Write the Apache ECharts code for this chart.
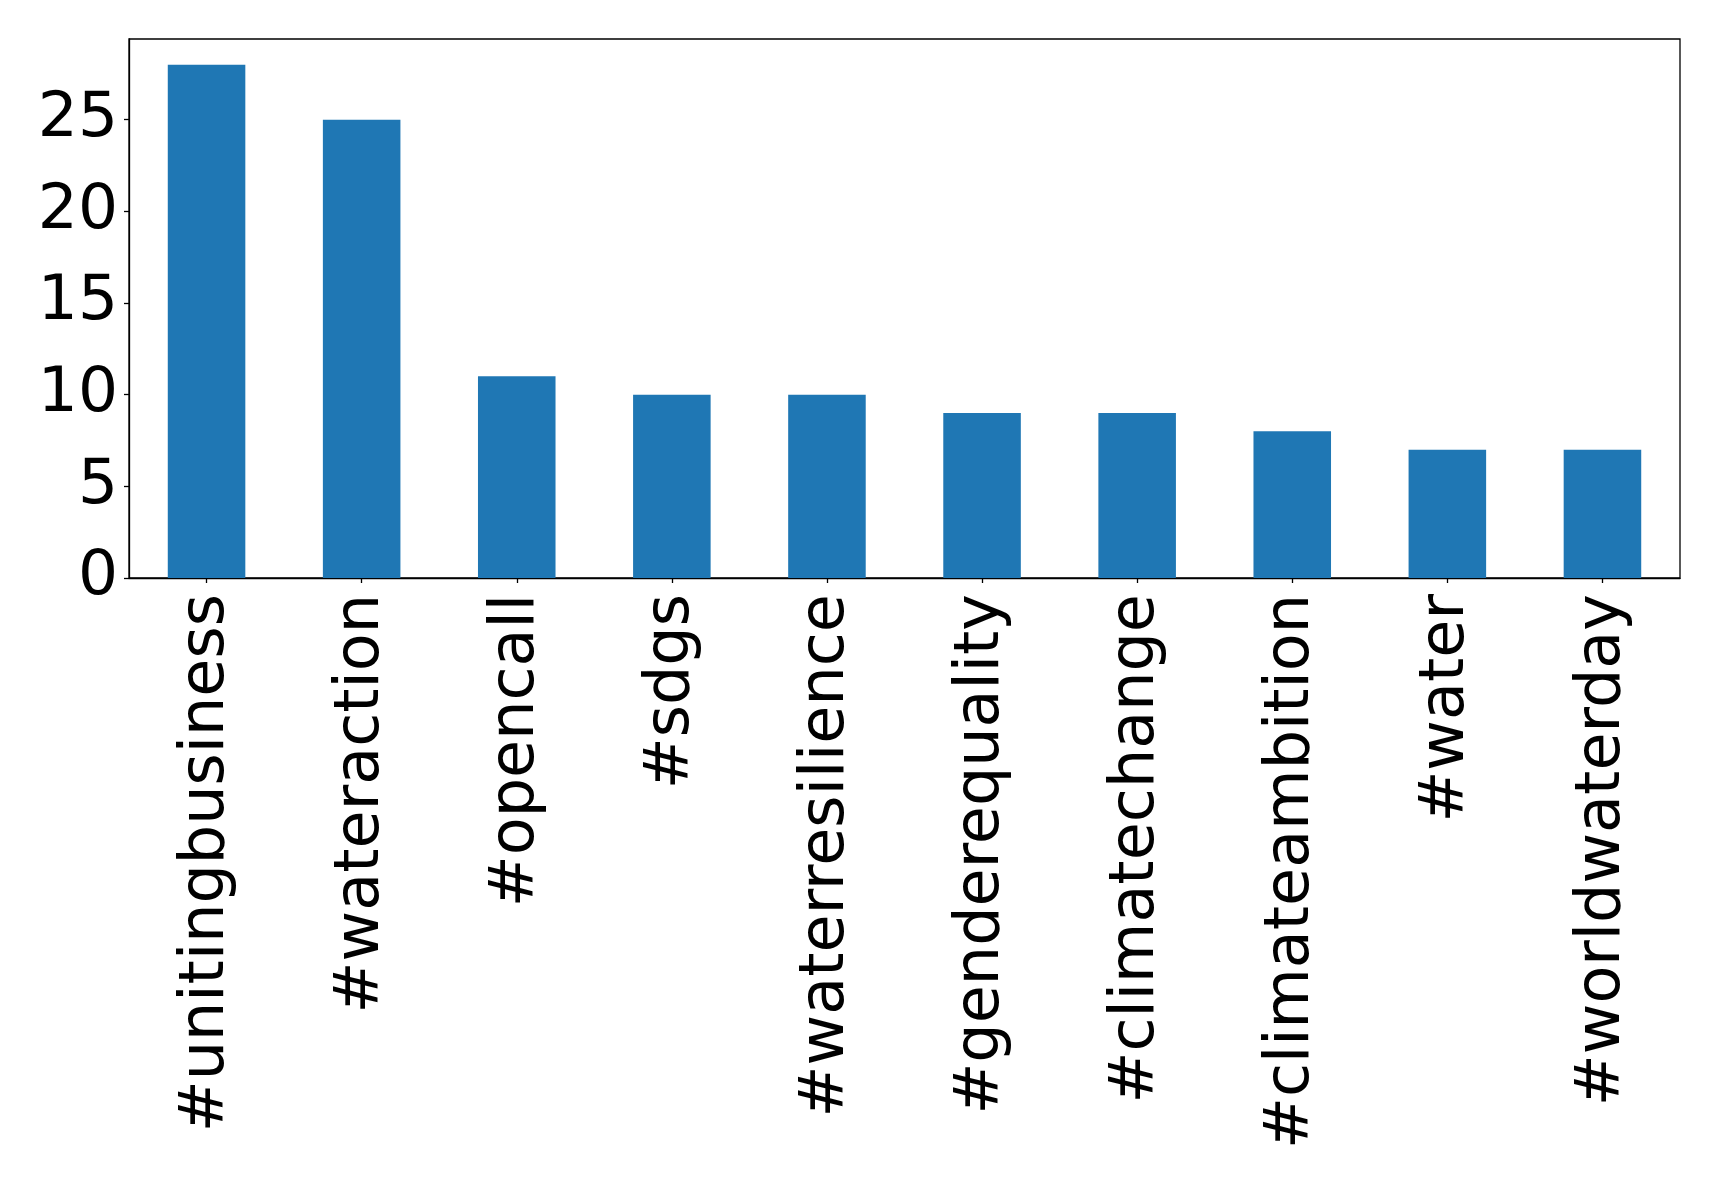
<!DOCTYPE html>
<html>
<head>
<meta charset="utf-8">
<script src="https://cdn.jsdelivr.net/npm/echarts@6/dist/echarts.min.js"></script>
<style>html,body{margin:0;padding:0;background:#fff;}#c{width:1719px;height:1187px;}</style>
</head>
<body>
<div id="c"></div>
<script>
const categories = ['#unitingbusiness','#wateraction','#opencall','#sdgs','#waterresilience','#genderequality','#climatechange','#climateambition','#water','#worldwaterday'];
const counts = [28, 25, 11, 10, 10, 9, 9, 8, 7, 7];
const yTicks = [0, 5, 10, 15, 20, 25];

const chart = echarts.init(document.getElementById('c'), null, {renderer: 'canvas'});
chart.setOption({
  animation: false,
  backgroundColor: '#fff',
  grid: {left: 129, top: 39, right: 39, bottom: 609, show: true, borderColor: '#000', borderWidth: 1.3, backgroundColor: 'transparent'},
  xAxis: {
    type: 'category',
    data: categories,
    axisLine: {show: true, lineStyle: {color: '#000', width: 1.3}},
    axisTick: {show: true, alignWithLabel: true, length: 5, lineStyle: {color: '#000', width: 1.3}},
    axisLabel: {rotate: 90, fontSize: 62, fontFamily: 'DejaVu Sans', color: '#000', margin: 16, interval: 0}
  },
  yAxis: {
    type: 'value',
    min: 0, max: 29.4, interval: 5,
    splitLine: {show: false},
    axisLine: {show: true, lineStyle: {color: '#000', width: 1.3}},
    axisTick: {show: true, length: 5, customValues: yTicks, lineStyle: {color: '#000', width: 1.3}},
    axisLabel: {fontSize: 63, fontFamily: 'DejaVu Sans', color: '#000', margin: 11,
      customValues: yTicks, padding: [4, 0, 0, 0],
      formatter: v => String(v)}
  },
  series: [{
    type: 'bar',
    data: counts,
    barWidth: '50%',
    itemStyle: {color: '#1f77b4'}
  }]
});
</script>
</body>
</html>
